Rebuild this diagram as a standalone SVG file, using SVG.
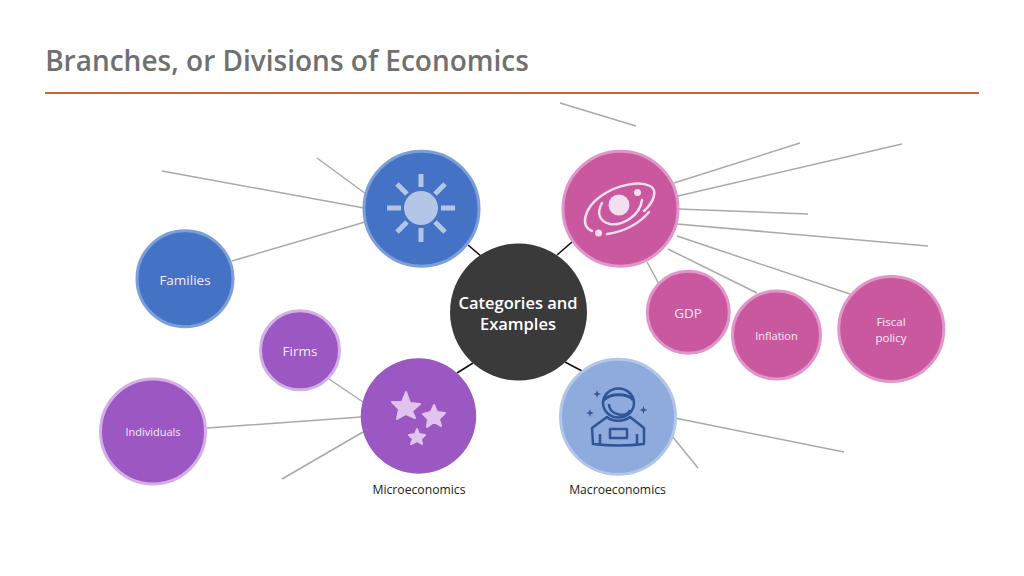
<svg xmlns="http://www.w3.org/2000/svg" width="1024" height="576" viewBox="0 0 1024 576">
<style>
text{font-family:"Open Sans","Noto Sans","Liberation Sans",sans-serif;text-anchor:middle}
.g{stroke:#a9a9a9;stroke-width:1.5;fill:none}
.k{stroke:#111;stroke-width:1.6;fill:none}
.blue{fill:#4472c4;stroke:#7c9fdb;stroke-width:3}
.pink{fill:#c9589f;stroke:#e096c8;stroke-width:3}
.purple{fill:#9b57c2;stroke:#d3afe6;stroke-width:3}
.w{fill:#f6eaf6}
.s{font-size:11.5px}
.m{font-size:13.5px}
.l{font-size:12.2px;fill:#222}
</style>
<rect width="1024" height="576" fill="#fff"/>
<text x="287" y="71" style="font-size:28px;font-weight:600;fill:#707070">Branches, or Divisions of Economics</text>
<rect x="45" y="92" width="934" height="2" fill="#d0603c"/>
<g id="connectors">
<path class="g" d="M560 103L636 126M317 158L366 194M162 171L364 208M232 261L365 222M674 183L800 143M678 196L902 144M678 209L808 214M677 224L928 246M677 236L850 294M668 249L757 293M647 262L659 284M329 379L363 402M207 428L361 417M282 479L363 432M675 418L844 452M672 436L698 468"/>
<path class="k" d="M468 245L481 256M572 242L557 255M457 373L473 363M565 362L582 371"/>
</g>
<g id="families"><circle class="blue" cx="185" cy="278.7" r="48"/><text class="w m" x="185" y="284.500">Families</text></g>
<g id="firms"><circle class="purple" cx="300" cy="350.300" r="39.500"/><text class="w m" x="300" y="356">Firms</text></g>
<g id="individuals"><circle class="purple" cx="153" cy="431.500" r="52.500"/><text class="w" style="font-size:11px" x="153" y="436">Individuals</text></g>
<g id="gdp"><circle class="pink" cx="688.300" cy="312.300" r="41"/><text class="w m" x="688" y="318">GDP</text></g>
<g id="inflation"><circle class="pink" cx="776.500" cy="335" r="44"/><text class="w" style="font-size:11px" x="776.500" y="339.500">Inflation</text></g>
<g id="fiscal"><circle class="pink" cx="891.300" cy="329" r="52.500"/><text class="w s" x="891" y="326">Fiscal</text><text class="w s" x="891" y="342">policy</text></g>
<g id="sun"><circle class="blue" cx="421.500" cy="208.700" r="57.500"/>
<circle cx="421" cy="208" r="17" fill="#b4c6e7"/>
<path d="M421 174V187M421 228V242M387 208H401M441 208H455M397 184L407 194M445 184L435 194M397 232L407 222M445 232L435 222" stroke="#b4c6e7" stroke-width="5" fill="none"/></g>
<g id="planet"><circle class="pink" cx="620.500" cy="208.700" r="57.500"/>
<circle cx="619" cy="205" r="10.500" fill="#f4dff0"/>
<g fill="none" stroke="#f4dff0" stroke-width="2.500" stroke-linecap="round"><path d="M592 231C580 226 584 208 601 196C618 184 640 181 650 186C658 190 654 202 644 211"/><path d="M602 203C597 212 598 221 610 224C622 226 640 216 642 200"/><path d="M607 234C625 232 641 222 649 212"/></g>
<circle cx="637.500" cy="192.500" r="3.500" fill="#f4dff0"/><circle cx="598.500" cy="233" r="3.500" fill="#f4dff0"/></g>
<g id="center"><circle cx="518.500" cy="312" r="68.500" fill="#3b3a3b"/><text x="518" y="309" style="font-size:16.500px;font-weight:600;fill:#fff">Categories and</text><text x="518" y="330" style="font-size:16.500px;font-weight:600;fill:#fff">Examples</text></g>
<g id="micro"><circle cx="418.500" cy="416" r="57.700" fill="#9b57c2"/>
<g fill="#e0c4ee" stroke="#e0c4ee" stroke-width="2" stroke-linejoin="round"><path d="M406 392L410 403L420 404L412 411L415 418L406 414L397 419L399 409L392 402L402 402Z"/><path d="M434 405L437 412L445 413L439 419L441 426L434 422L427 427L428 419L423 414L431 412Z"/><path d="M417 429L419 434L425 435L421 439L422 444L417 441L411 444L413 439L409 435L415 434Z"/></g></g>
<g id="macro"><circle cx="618" cy="416.800" r="57.500" fill="#8faadc" stroke="#b4c6e7" stroke-width="3"/>
<g fill="none" stroke="#2f5597" stroke-width="2.500" stroke-linejoin="round"><ellipse cx="618.500" cy="403" rx="15.500" ry="14.500"/><path d="M604 400C610 393 628 393 633 400" stroke-width="3"/><path d="M609 404C609 416 628 418 630 410"/><path d="M607 417L592 428L593 444C610 446 627 446 644 444L644 428L630 417C624 422 612 422 607 417Z"/><rect x="610" y="429" width="17" height="9"/><path d="M600 434V444M637 434V444"/></g>
<path d="M597 390l1 3 3 1-3 1-1 3-1-3-3-1 3-1zM590 409l1 3 3 1-3 1-1 3-1-3-3-1 3-1zM643.500 406l1 3 3 1-3 1-1 3-1-3-3-1 3-1z" fill="#2f5597"/></g>
<g id="labels"><text class="l" x="419" y="494">Microeconomics</text><text class="l" x="617.500" y="494">Macroeconomics</text></g>
</svg>
